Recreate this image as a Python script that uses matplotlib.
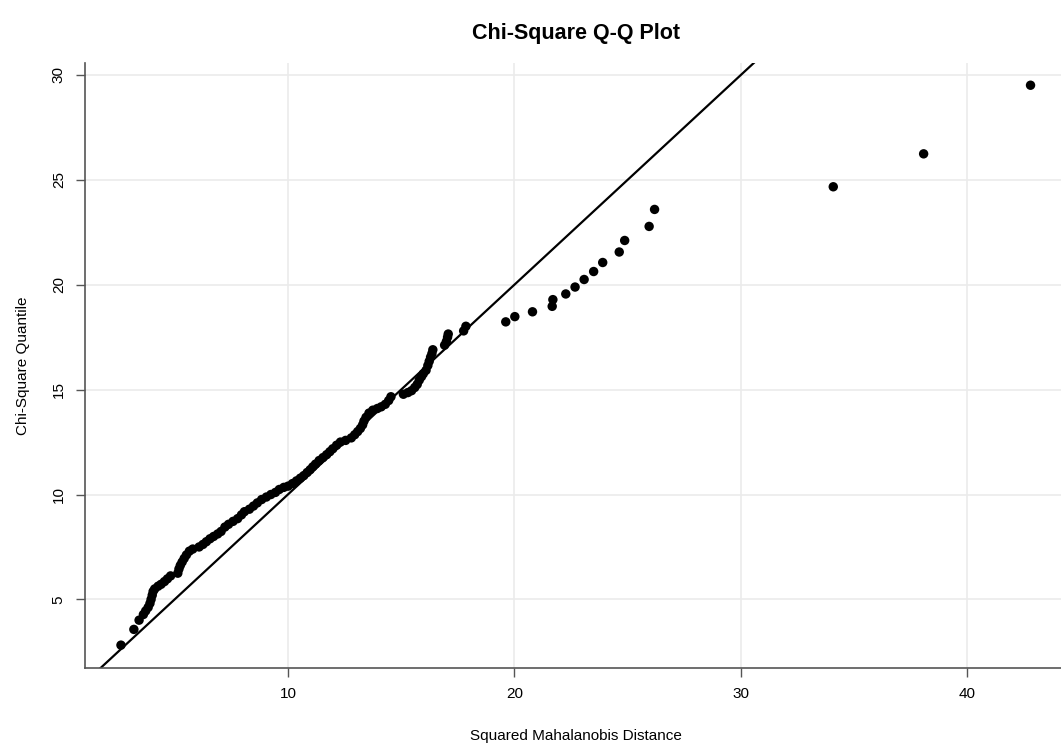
import matplotlib
matplotlib.use("Agg")
from matplotlib import pyplot as plt

plt.rcParams['font.family'] = ['Liberation Sans', 'DejaVu Sans']

# squared Mahalanobis distances (x) and chi-square quantiles (y)
md2 = [2.63, 3.20, 3.43, 3.62, 3.72, 3.83, 3.91, 3.96, 4.01, 4.05, 4.12, 4.27, 4.40, 4.55,
       4.68, 4.82, 5.14, 5.19, 5.25, 5.33, 5.42, 5.52, 5.65, 5.80, 6.08, 6.25, 6.40, 6.56,
       6.72, 6.90, 7.05, 7.22, 7.38, 7.58, 7.78, 7.95, 8.08, 8.30, 8.48, 8.65, 8.84, 9.05,
       9.25, 9.45, 9.62, 9.82, 10.01, 10.20, 10.38, 10.55, 10.70, 10.85, 10.98, 11.10, 11.22,
       11.38, 11.55, 11.71, 11.85, 11.98, 12.15, 12.32, 12.55, 12.80, 12.95, 13.08, 13.20,
       13.30, 13.36, 13.45, 13.58, 13.75, 13.95, 14.12, 14.30, 14.45, 14.55, 15.10, 15.30,
       15.46, 15.60, 15.71, 15.80, 15.90, 15.98, 16.10, 16.18, 16.24, 16.30, 16.36, 16.40,
       16.92, 17.00, 17.05, 17.08, 17.76, 17.86,
       19.62, 20.02, 20.80, 21.67, 21.70, 22.27, 22.68, 23.08, 23.50, 23.90, 24.63, 24.87,
       25.95, 26.19, 34.08, 38.07, 42.79]
chisq_q = [2.82, 3.57, 4.01, 4.28, 4.45, 4.62, 4.81, 5.00, 5.20, 5.38, 5.50, 5.63, 5.72, 5.85,
           5.98, 6.12, 6.25, 6.45, 6.62, 6.78, 6.95, 7.12, 7.30, 7.40, 7.50, 7.62, 7.75, 7.89,
           8.00, 8.12, 8.24, 8.45, 8.58, 8.72, 8.85, 9.03, 9.18, 9.30, 9.45, 9.60, 9.76, 9.88,
           10.00, 10.10, 10.24, 10.34, 10.40, 10.52, 10.65, 10.78, 10.90, 11.05, 11.18, 11.32, 11.45,
           11.62, 11.76, 11.90, 12.04, 12.18, 12.35, 12.50, 12.58, 12.70, 12.85, 13.00, 13.15,
           13.32, 13.50, 13.68, 13.88, 14.02, 14.10, 14.18, 14.30, 14.48, 14.66, 14.78, 14.86,
           14.95, 15.10, 15.25, 15.45, 15.62, 15.76, 15.92, 16.15, 16.35, 16.55, 16.72, 16.90,
           17.12, 17.30, 17.50, 17.65, 17.80, 18.02,
           18.23, 18.48, 18.71, 18.97, 19.29, 19.56, 19.89, 20.25, 20.63, 21.06, 21.56, 22.11,
           22.78, 23.59, 24.67, 26.24, 29.51]

# reference line y = x
ref_intercept = 0
ref_slope = 1

x_ticks = [10, 20, 30, 40]
y_ticks = [5, 10, 15, 20, 25, 30]

W, H = 1061, 745
fig = plt.figure(figsize=(W / 100, H / 100), dpi=100)
ax = fig.add_axes([84.5 / W, 77 / H, (1067 - 84.5) / W, (668 - 63) / H])

ax.grid(True, color='#ebebeb', linewidth=1.2, zorder=0)
ax.set_axisbelow(True)
ax.axline((0, ref_intercept), slope=ref_slope, color='black', linewidth=1.6, zorder=2)
ax.scatter(md2, chisq_q, s=46, color='black', edgecolors='none', zorder=3)

ax.set_xlim(1.02, 44.4)
ax.set_ylim(1.73, 30.57)
ax.set_xticks(x_ticks)
ax.set_yticks(y_ticks)
for s in ['top', 'right']:
    ax.spines[s].set_visible(False)
for s in ['left', 'bottom']:
    ax.spines[s].set_color('#555555')
    ax.spines[s].set_linewidth(1.2)
ax.tick_params(length=6.5, width=1, color='#555555', labelsize=11, pad=7)
plt.setp(ax.get_yticklabels(), rotation=90, va='center')

ax.set_xlabel('Squared Mahalanobis Distance', fontsize=11, labelpad=20)
ax.set_ylabel('Chi-Square Quantile', fontsize=11, labelpad=16)
fig.text((84.5 + 1067) / 2 / W, 1 - 33 / H, 'Chi-Square Q-Q Plot', fontsize=15.5,
         fontweight='bold', ha='center', va='center')

fig.savefig('out.png', dpi=100)
